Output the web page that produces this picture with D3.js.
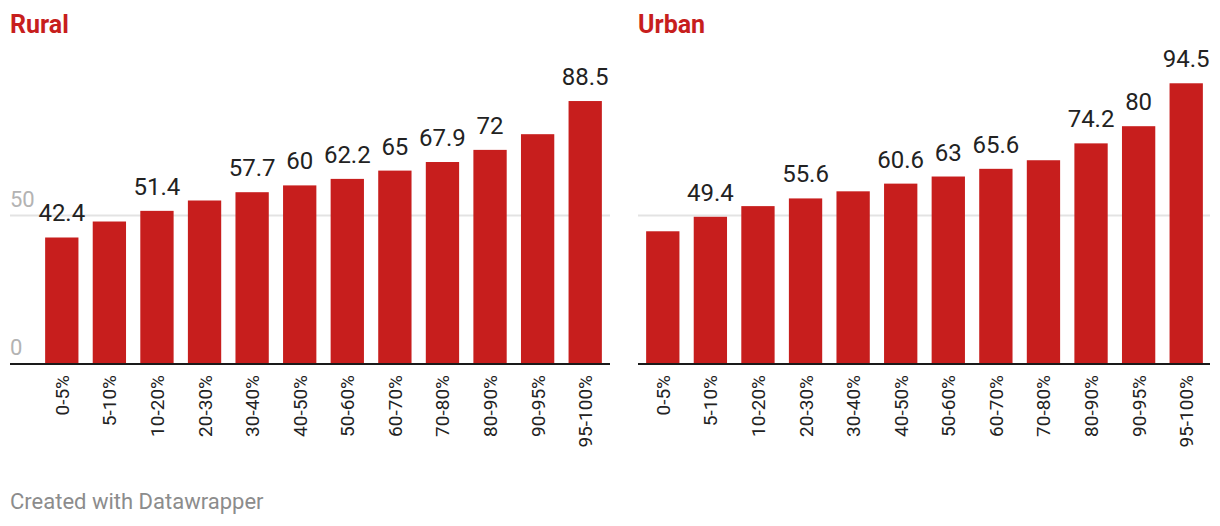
<!DOCTYPE html>
<html>
<head>
<meta charset="utf-8">
<script src="https://cdn.jsdelivr.net/npm/d3@7"></script>
<style>
  html, body { margin: 0; padding: 0; background: #fff; }
  svg { display: block; font-family: Roboto, "Noto Sans", sans-serif; }
</style>
</head>
<body>
<svg id="chart" width="1220" height="526"></svg>
<script>
// ---- data ----
const categories = ["0-5%", "5-10%", "10-20%", "20-30%", "30-40%", "40-50%", "50-60%", "60-70%", "70-80%", "80-90%", "90-95%", "95-100%"];
const ruralValues = [42.4, 47.8, 51.4, 54.9, 57.7, 60, 62.2, 65, 67.9, 72, 77.3, 88.5];
const urbanValues = [44.5, 49.4, 53.0, 55.6, 58.0, 60.6, 63, 65.6, 68.5, 74.2, 80, 94.5];
const ruralLabelShown = [true, false, true, false, true, true, true, true, true, true, false, true];
const urbanLabelShown = [false, true, false, true, false, true, true, true, false, true, true, true];
const yTicks = [0, 50];
const panelTitles = ["Rural", "Urban"];
const footerText = "Created with Datawrapper";

const RED = "#c71e1d";
const svg = d3.select("#chart");

const y = d3.scaleLinear().domain([0, 100]).range([363, 67]);

const panels = [
  { title: panelTitles[0], values: ruralValues, shown: ruralLabelShown, x0: 10, x1: 610, bandStart: 38, bandEnd: 609, yLabels: true },
  { title: panelTitles[1], values: urbanValues, shown: urbanLabelShown, x0: 638, x1: 1210, bandStart: 639, bandEnd: 1210, yLabels: false }
];

panels.forEach(p => {
  const g = svg.append("g");
  const x = d3.scaleBand().domain(categories).range([p.bandStart, p.bandEnd])
    .paddingInner(0.3).paddingOuter(0.15);

  // title
  g.append("text").attr("x", p.x0).attr("y", 33)
    .attr("fill", RED).attr("font-weight", 700).attr("font-size", 25)
    .text(p.title);

  // gridlines (non-zero)
  yTicks.filter(t => t !== 0).forEach(t => {
    g.append("line").attr("x1", p.x0).attr("x2", p.x1)
      .attr("y1", Math.round(y(t)) + 0.5).attr("y2", Math.round(y(t)) + 0.5)
      .attr("stroke", "#e3e3e3").attr("stroke-width", 2);
  });

  // y tick labels
  if (p.yLabels) {
    yTicks.forEach(t => {
      g.append("text").attr("x", p.x0).attr("y", y(t) - 8)
        .attr("fill", "#b3b3b3").attr("font-size", 22)
        .text(t);
    });
  }

  // bars
  g.selectAll("rect.bar").data(p.values).enter().append("rect")
    .attr("class", "bar")
    .attr("x", (d, i) => x(categories[i]))
    .attr("width", x.bandwidth())
    .attr("y", d => y(d))
    .attr("height", d => y(0) - y(d))
    .attr("fill", RED);

  // baseline
  g.append("line").attr("x1", p.x0).attr("x2", p.x1)
    .attr("y1", y(0) + 1).attr("y2", y(0) + 1)
    .attr("stroke", "#1a1a1a").attr("stroke-width", 2);

  // value labels
  const labelled = p.values.map((v, i) => ({ v, i })).filter(d => p.shown[d.i]);
  g.selectAll("text.val").data(labelled).enter()
    .append("text").attr("class", "val")
    .attr("x", d => x(categories[d.i]) + x.bandwidth() / 2)
    .attr("y", d => y(d.v) - 16)
    .attr("text-anchor", "middle")
    .attr("fill", "#222").attr("font-size", 24)
    .text(d => d.v);

  // x axis labels (rotated)
  categories.forEach((c, i) => {
    const cx = x(c) + x.bandwidth() / 2;
    g.append("text")
      .attr("transform", `translate(${cx + 7},${375}) rotate(-90)`)
      .attr("text-anchor", "end")
      .attr("fill", "#222").attr("font-size", 19)
      .text(c);
  });
});

// footer
svg.append("text").attr("x", 10).attr("y", 509)
  .attr("fill", "#8c8c8c").attr("font-size", 22)
  .text(footerText);
</script>
</body>
</html>
